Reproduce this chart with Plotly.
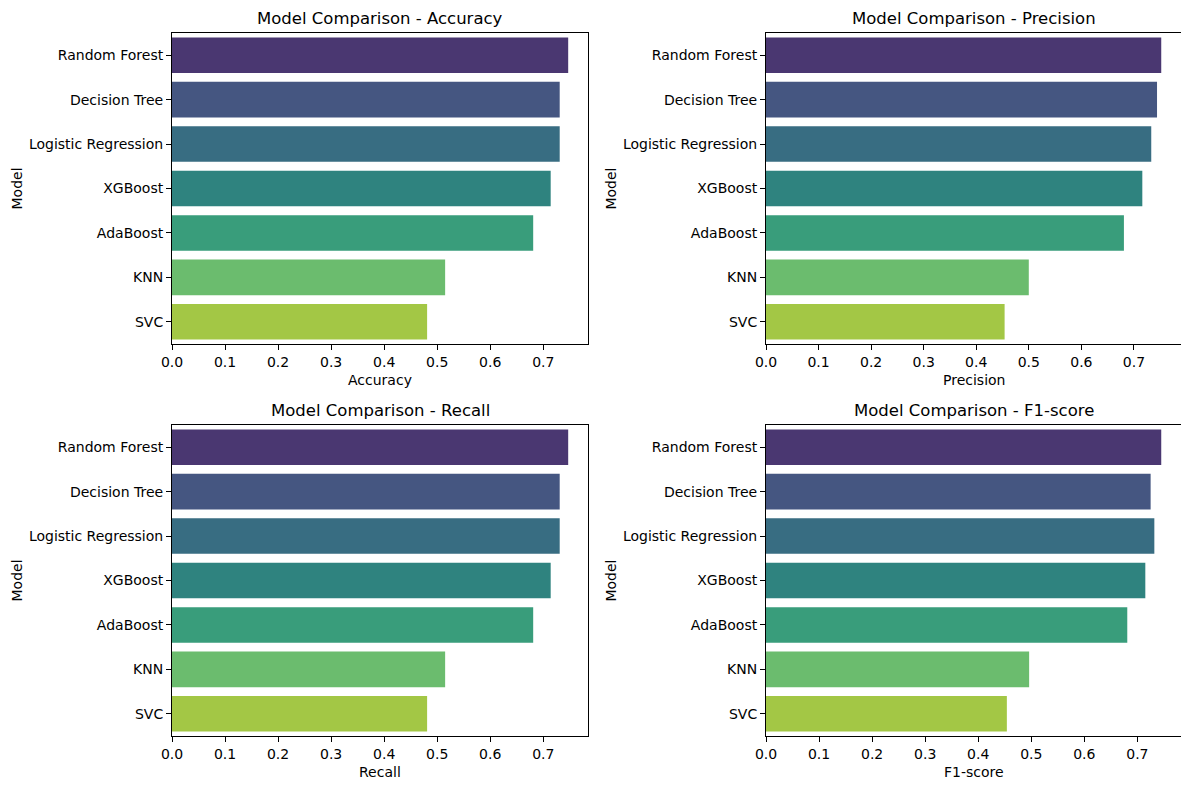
import colorsys
import plotly.graph_objects as go

# model names, top to bottom as in the chart
models = ["Random Forest", "Decision Tree", "Logistic Regression", "XGBoost",
          "AdaBoost", "KNN", "SVC"]

# scores
accuracy = [0.747, 0.731, 0.731, 0.714, 0.681, 0.515, 0.481]
precision = [0.752, 0.744, 0.733, 0.716, 0.681, 0.500, 0.454]
recall = [0.747, 0.731, 0.731, 0.714, 0.681, 0.515, 0.481]
f1_score = [0.745, 0.725, 0.732, 0.715, 0.681, 0.496, 0.454]

metric_names = ["Accuracy", "Precision", "Recall", "F1-score"]
metric_values = [accuracy, precision, recall, f1_score]
x_ticks = [0.0, 0.1, 0.2, 0.3, 0.4, 0.5, 0.6, 0.7]

# viridis (7 steps) with seaborn's 0.75 desaturation
viridis7 = ["#472d7b", "#3b528b", "#2c728e", "#21918c", "#28ae80", "#5ec962", "#addc30"]


def desaturate(hex_color, prop=0.75):
    r, g, b = (int(hex_color[i:i + 2], 16) / 255 for i in (1, 3, 5))
    h, l, s = colorsys.rgb_to_hls(r, g, b)
    r, g, b = colorsys.hls_to_rgb(h, l, s * prop)
    return "#%02x%02x%02x" % (round(r * 255), round(g * 255), round(b * 255))


colors = [desaturate(c) for c in viridis7]

# the page body has an 8px margin, so the figure is a bit smaller
# and everything is placed 8px up/left of where it sits on screen
OFF = 8
W, H = 1181, 776
FONT = "DejaVu Sans"

# axes boxes in screen pixels (left, right, top, bottom)
boxes = [(172, 588, 33, 344), (766, 1181, 33, 344),
         (172, 588, 425, 736), (766, 1181, 425, 736)]
xlabel_y = [380, 380, 772, 772]


def px(x):
    return (x - OFF) / W


def py(y):
    return 1 - (y - OFF) / H


fig = go.Figure()
annotations = []

for i, (name, vals) in enumerate(zip(metric_names, metric_values)):
    n = "" if i == 0 else str(i + 1)
    fig.add_trace(go.Bar(
        x=vals, y=models, orientation="h",
        marker=dict(color=colors, line=dict(width=0)),
        xaxis="x" + n, yaxis="y" + n, showlegend=False,
        hovertemplate="%{y}: %{x:.3f}<extra></extra>",
    ))
    l, r, t, b = boxes[i]
    xd = [px(l), px(r)]
    yd = [py(b), py(t)]
    fig.update_layout(**{
        "xaxis" + n: dict(
            domain=xd, anchor="y" + n, range=[0, max(vals) * 1.05],
            tickvals=x_ticks, tickformat=".1f",
            ticks="outside", ticklen=5, tickwidth=1, tickcolor="black",
            showline=True, mirror=True, linecolor="black", linewidth=1,
            showgrid=False, zeroline=False, automargin=False,
        ),
        "yaxis" + n: dict(
            domain=yd, anchor="x" + n, autorange="reversed",
            ticks="outside", ticklen=5, tickwidth=1, tickcolor="black",
            showline=True, mirror=True, linecolor="black", linewidth=1,
            showgrid=False, zeroline=False, automargin=False,
            title=dict(text="Model", standoff=3, font=dict(size=14)),
        ),
    })
    # subplot title
    annotations.append(dict(
        text="Model Comparison - " + name, xref="paper", yref="paper",
        x=(xd[0] + xd[1]) / 2, y=yd[1], xanchor="center", yanchor="bottom",
        yshift=3, showarrow=False, font=dict(size=16.5, color="black"),
    ))
    # x axis label
    annotations.append(dict(
        text=name, xref="paper", yref="paper",
        x=(xd[0] + xd[1]) / 2, y=py(xlabel_y[i]), xanchor="center", yanchor="middle",
        showarrow=False, font=dict(size=14, color="black"),
    ))

fig.update_layout(
    width=W, height=H,
    margin=dict(l=0, r=0, t=0, b=0),
    paper_bgcolor="white", plot_bgcolor="white",
    font=dict(family=FONT, size=14, color="black"),
    bargap=0.2,
    annotations=annotations,
)

fig.write_html("out.html")
